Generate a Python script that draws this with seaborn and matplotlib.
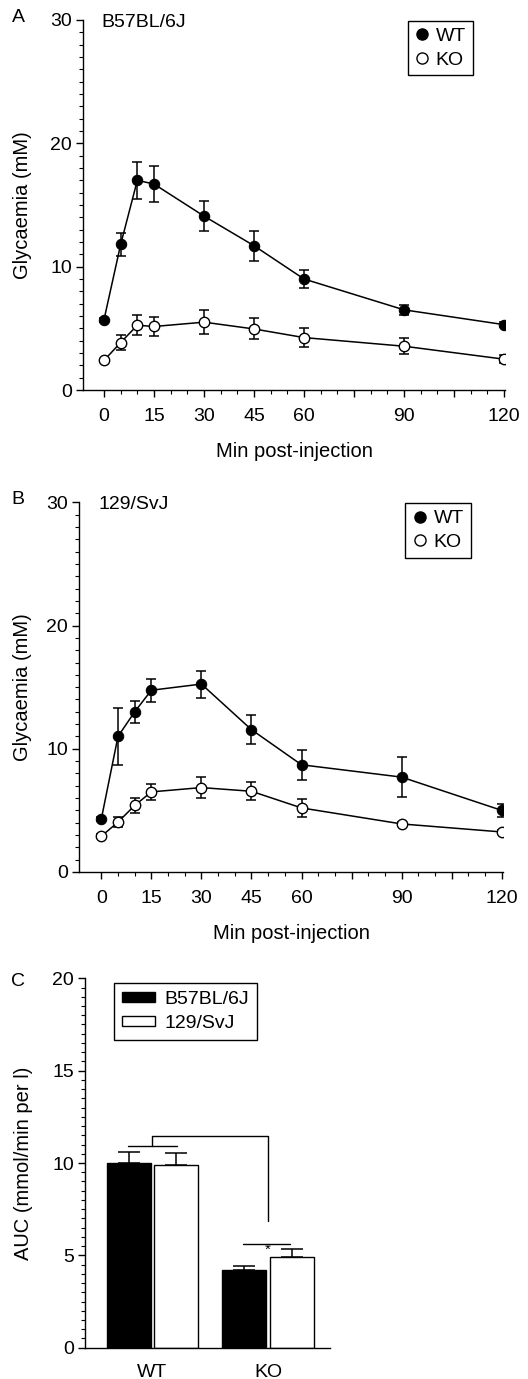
import pandas as pd
import matplotlib
matplotlib.use("Agg")
import matplotlib.pyplot as plt
from matplotlib.ticker import FixedLocator, MultipleLocator
from matplotlib.lines import Line2D
from matplotlib.patches import Patch
import seaborn as sns

# glucose tolerance time course, mean and SEM
minutes = [0, 5, 10, 15, 30, 45, 60, 90, 120]

b6_wt = [5.7, 11.8, 17.0, 16.7, 14.1, 11.7, 9.0, 6.5, 5.3]
b6_wt_err = [0.15, 0.9, 1.5, 1.45, 1.2, 1.2, 0.75, 0.4, 0.2]
b6_ko = [2.4, 3.85, 5.25, 5.15, 5.5, 4.95, 4.25, 3.55, 2.5]
b6_ko_err = [0.15, 0.6, 0.8, 0.8, 0.95, 0.85, 0.8, 0.65, 0.3]

sv_wt = [4.3, 11.0, 13.0, 14.75, 15.25, 11.55, 8.7, 7.7, 5.0]
sv_wt_err = [0.15, 2.3, 0.9, 0.95, 1.1, 1.2, 1.2, 1.65, 0.5]
sv_ko = [2.9, 4.05, 5.4, 6.5, 6.85, 6.55, 5.2, 3.9, 3.25]
sv_ko_err = [0.15, 0.42, 0.6, 0.65, 0.88, 0.72, 0.75, 0.15, 0.15]

# AUC per genotype and strain
genotypes = ['WT', 'KO']
strains = ['B57BL/6J', '129/SvJ']
auc_b6 = [10.0, 4.2]
auc_b6_err = [0.6, 0.23]
auc_sv = [9.9, 4.9]
auc_sv_err = [0.65, 0.42]

sns.set_style("ticks")
plt.rcParams['font.family'] = ['Liberation Sans', 'DejaVu Sans']
plt.rcParams['font.size'] = 14
for k in ['text.color', 'axes.labelcolor', 'xtick.color', 'ytick.color', 'axes.edgecolor']:
    plt.rcParams[k] = 'black'
plt.rcParams['axes.linewidth'] = 1.0
plt.rcParams['xtick.major.width'] = 1.0
plt.rcParams['ytick.major.width'] = 1.0
plt.rcParams['xtick.minor.width'] = 0.8
plt.rcParams['ytick.minor.width'] = 0.8

W, H = 528, 1379
TICK_FS = 14
LABEL_FS = 14.5
fig = plt.figure(figsize=(W / 100, H / 100), dpi=100)


def px_axes(x0, x1, y0, y1):
    return fig.add_axes([x0 / W, 1 - y1 / H, (x1 - x0) / W, (y1 - y0) / H])


def time_panel(ax, wt, wt_err, ko, ko_err, strain, xmin, ylab_x):
    df = pd.DataFrame({'minute': minutes * 2,
                       'glc': wt + ko,
                       'genotype': ['WT'] * len(minutes) + ['KO'] * len(minutes)})
    ax.errorbar(minutes, wt, yerr=wt_err, fmt='none', ecolor='black',
                elinewidth=1.1, capsize=3.5, capthick=1.1, zorder=2)
    ax.errorbar(minutes, ko, yerr=ko_err, fmt='none', ecolor='black',
                elinewidth=1.1, capsize=3.5, capthick=1.1, zorder=2)
    sns.lineplot(data=df[df.genotype == 'WT'], x='minute', y='glc', ax=ax,
                 color='black', lw=1.1, marker='o', markersize=7.5,
                 markerfacecolor='black', markeredgecolor='black', zorder=3)
    sns.lineplot(data=df[df.genotype == 'KO'], x='minute', y='glc', ax=ax,
                 color='black', lw=1.1, marker='o', markersize=7.5,
                 markerfacecolor='white', markeredgecolor='black',
                 markeredgewidth=1, zorder=3)
    ax.set_xlim(xmin, 120.3)
    ax.set_ylim(0, 30)
    ax.xaxis.set_major_locator(FixedLocator(list(range(0, 121, 15))))
    ax.set_xticklabels(['0', '15', '30', '45', '60', '', '90', '', '120'])
    ax.xaxis.set_minor_locator(FixedLocator([m for m in range(5, 120, 5) if m % 15]))
    ax.yaxis.set_major_locator(FixedLocator([0, 10, 20, 30]))
    ax.yaxis.set_minor_locator(MultipleLocator(1))
    ax.tick_params(which='major', length=5, labelsize=TICK_FS)
    ax.tick_params(which='minor', length=3)
    ax.tick_params(axis='x', pad=8)
    ax.tick_params(axis='y', pad=3)
    ax.set_xlabel('Min post-injection', fontsize=LABEL_FS, labelpad=12)
    ax.set_ylabel('Glycaemia (mM)', fontsize=LABEL_FS)
    ax.yaxis.set_label_coords(ylab_x, 0.5)
    ax.text(-0.7, 29.8, strain, ha='left', va='center', fontsize=TICK_FS)
    sns.despine(ax=ax)
    handles = [Line2D([], [], ls='none', marker='o', ms=8, mfc='black', mec='black'),
               Line2D([], [], ls='none', marker='o', ms=8, mfc='white', mec='black')]
    leg = ax.legend(handles, genotypes, loc='upper right',
                    bbox_to_anchor=(0.924, 0.998), borderaxespad=0,
                    frameon=True, fancybox=False, framealpha=1,
                    edgecolor='black', handlelength=0.8, handletextpad=0.3,
                    borderpad=0.35, labelspacing=0.3, fontsize=TICK_FS)
    leg.get_frame().set_linewidth(1.0)


axA = px_axes(83, 505, 20, 390)
time_panel(axA, b6_wt, b6_wt_err, b6_ko, b6_ko_err, 'B57BL/6J', -6.3, -0.121)

axB = px_axes(79.3, 502.7, 502.3, 872)
time_panel(axB, sv_wt, sv_wt_err, sv_ko, sv_ko_err, '129/SvJ', -6.6, -0.112)

# panel C: AUC bars
axC = px_axes(85, 330, 978.3, 1347.7)
auc = pd.DataFrame({'genotype': genotypes * 2,
                    'strain': [strains[0]] * 2 + [strains[1]] * 2,
                    'auc': auc_b6 + auc_sv})
sns.barplot(data=auc, x='genotype', y='auc', hue='strain', order=genotypes,
            hue_order=strains, palette={strains[0]: 'black', strains[1]: 'white'},
            edgecolor='black', linewidth=1, width=0.82, gap=0.07,
            errorbar=None, legend=False, ax=axC, zorder=2)
for cont, errs in zip(axC.containers, [auc_b6_err, auc_sv_err]):
    xs = [b.get_x() + b.get_width() / 2 for b in cont]
    tops = [b.get_height() for b in cont]
    axC.errorbar(xs, tops, yerr=[[0] * len(errs), errs], fmt='none',
                 ecolor='black', elinewidth=1.1, capsize=8, capthick=1.1, zorder=1)

# significance brackets
axC.plot([-0.215, 0.21], [10.9, 10.9], color='black', lw=1)
axC.plot([0, 0, 1.0, 1.0], [10.9, 11.46, 11.46, 6.86], color='black', lw=1)
axC.plot([0.78, 1.19], [5.59, 5.59], color='black', lw=1)
axC.text(1.0, 5.3, '*', ha='center', va='center', fontsize=11)

axC.set_xlim(-0.584, 1.537)
axC.set_ylim(0, 20)
axC.yaxis.set_major_locator(FixedLocator([0, 5, 10, 15, 20]))
axC.yaxis.set_minor_locator(MultipleLocator(0.5))
axC.tick_params(which='major', length=5, labelsize=TICK_FS)
axC.tick_params(which='minor', length=3)
axC.tick_params(axis='y', pad=3)
axC.tick_params(axis='x', length=0, pad=12)
axC.set_xlabel('')
axC.set_ylabel('AUC (mmol/min per l)', fontsize=LABEL_FS)
axC.yaxis.set_label_coords(-0.212, 0.5)
sns.despine(ax=axC)
leg = axC.legend([Patch(facecolor='black', edgecolor='black'),
                  Patch(facecolor='white', edgecolor='black')], strains,
                 loc='upper left', bbox_to_anchor=(0.1196, 0.9865), borderaxespad=0,
                 frameon=True, fancybox=False, framealpha=1, edgecolor='black',
                 handlelength=1.7, handleheight=0.45, handletextpad=0.5,
                 borderpad=0.4, labelspacing=0.35, fontsize=TICK_FS)
leg.get_frame().set_linewidth(1.0)

fig.text(18 / W, 1 - 18 / H, 'A', ha='center', va='center', fontsize=TICK_FS)
fig.text(18 / W, 1 - 499 / H, 'B', ha='center', va='center', fontsize=TICK_FS)
fig.text(18 / W, 1 - 981 / H, 'C', ha='center', va='center', fontsize=TICK_FS)

fig.savefig('out.png', dpi=100)
